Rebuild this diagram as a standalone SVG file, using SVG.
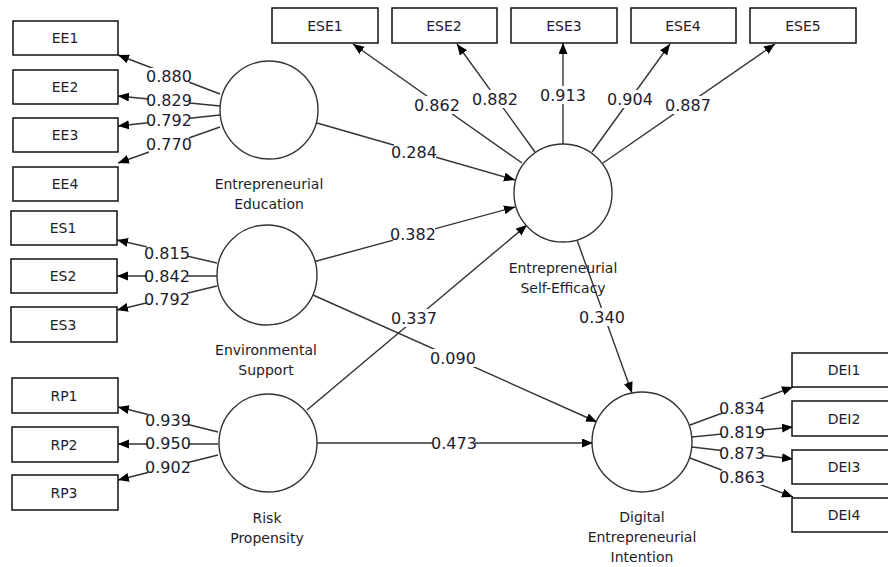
<svg xmlns="http://www.w3.org/2000/svg" width="888" height="567" viewBox="0 0 888 567">
<style>
.box{fill:#fff;stroke:#111;stroke-width:1.5}
.lv{fill:#fff;stroke:#333;stroke-width:1.4}
.bt{font-family:"DejaVu Sans",sans-serif;font-size:14px;fill:#1c1c2c;text-anchor:middle}
.lt{font-family:"DejaVu Sans",sans-serif;font-size:14px;fill:#1c1c2c;text-anchor:middle}
.ln{stroke:#333;stroke-width:1.4;fill:none;marker-end:url(#ah)}
.nb{fill:#fff}
.nt{font-family:"DejaVu Sans",sans-serif;font-size:16px;fill:#1c1c2c;text-anchor:middle}
</style>
<defs>
<marker id="ah" markerUnits="userSpaceOnUse" markerWidth="12" markerHeight="10" refX="11" refY="4.5" orient="auto">
<path d="M0,0 L11,4.5 L0,9 z" fill="#000"/>
</marker>
</defs>
<rect width="888" height="567" fill="#fff"/>

<g id="connectors">
<!-- EE outer loadings -->
<line class="ln" x1="220" y1="94" x2="118" y2="55"/>
<line class="ln" x1="220" y1="106" x2="118" y2="96"/>
<line class="ln" x1="220" y1="115" x2="118" y2="126"/>
<line class="ln" x1="220" y1="127" x2="118" y2="163"/>
<!-- ES -->
<line class="ln" x1="217" y1="263" x2="117" y2="240"/>
<line class="ln" x1="217" y1="276" x2="117" y2="276"/>
<line class="ln" x1="217" y1="286" x2="117" y2="310"/>
<!-- RP -->
<line class="ln" x1="218" y1="432" x2="118" y2="407"/>
<line class="ln" x1="218" y1="444" x2="118" y2="444"/>
<line class="ln" x1="218" y1="455" x2="118" y2="480"/>
<!-- ESE -->
<line class="ln" x1="522" y1="163" x2="353" y2="44"/>
<line class="ln" x1="535" y1="152" x2="457" y2="44"/>
<line class="ln" x1="563" y1="144" x2="563" y2="43"/>
<line class="ln" x1="592" y1="152" x2="670" y2="44"/>
<line class="ln" x1="603" y1="163" x2="775" y2="44"/>
<!-- DEI -->
<line class="ln" x1="690" y1="425" x2="793" y2="387"/>
<line class="ln" x1="692" y1="437" x2="793" y2="427"/>
<line class="ln" x1="692" y1="447" x2="793" y2="459"/>
<line class="ln" x1="690" y1="458" x2="793" y2="497"/>
<!-- structural -->
<line class="ln" x1="317" y1="123" x2="515" y2="180"/>
<line class="ln" x1="313" y1="262" x2="515" y2="207"/>
<line class="ln" x1="307" y1="410" x2="527" y2="225"/>
<line class="ln" x1="313" y1="295" x2="597" y2="422"/>
<line class="ln" x1="317" y1="443" x2="593" y2="443"/>
<line class="ln" x1="577" y1="240" x2="632" y2="393"/>

<!-- labels -->
<g id="coef">
<rect class="nb" x="149" y="68" width="40" height="16"/><text class="nt" x="169" y="82">0.880</text>
<rect class="nb" x="149" y="93" width="40" height="16"/><text class="nt" x="169" y="106">0.829</text>
<rect class="nb" x="149" y="113" width="40" height="16"/><text class="nt" x="169" y="126">0.792</text>
<rect class="nb" x="149" y="137" width="40" height="16"/><text class="nt" x="169" y="150">0.770</text>

<rect class="nb" x="147" y="246" width="40" height="15"/><text class="nt" x="167" y="259">0.815</text>
<rect class="nb" x="147" y="269" width="40" height="15"/><text class="nt" x="167" y="282">0.842</text>
<rect class="nb" x="147" y="292" width="40" height="15"/><text class="nt" x="167" y="305">0.792</text>

<rect class="nb" x="148" y="413" width="40" height="15"/><text class="nt" x="168" y="426">0.939</text>
<rect class="nb" x="148" y="436" width="40" height="15"/><text class="nt" x="168" y="449">0.950</text>
<rect class="nb" x="148" y="460" width="40" height="15"/><text class="nt" x="168" y="473">0.902</text>

<rect class="nb" x="417" y="96" width="40" height="18"/><text class="nt" x="437" y="111">0.862</text>
<rect class="nb" x="475" y="90" width="40" height="18"/><text class="nt" x="495" y="105">0.882</text>
<rect class="nb" x="543" y="86" width="40" height="18"/><text class="nt" x="563" y="101">0.913</text>
<rect class="nb" x="610" y="90" width="40" height="18"/><text class="nt" x="630" y="105">0.904</text>
<rect class="nb" x="668" y="96" width="40" height="18"/><text class="nt" x="688" y="111">0.887</text>

<rect class="nb" x="722" y="399" width="40" height="16"/><text class="nt" x="742" y="414">0.834</text>
<rect class="nb" x="722" y="424" width="40" height="16"/><text class="nt" x="742" y="438">0.819</text>
<rect class="nb" x="722" y="445" width="40" height="16"/><text class="nt" x="742" y="459">0.873</text>
<rect class="nb" x="722" y="469" width="40" height="16"/><text class="nt" x="742" y="483">0.863</text>

<rect class="nb" x="394" y="143" width="42" height="18"/><text class="nt" x="414" y="158">0.284</text>
<rect class="nb" x="393" y="225" width="42" height="18"/><text class="nt" x="413" y="240">0.382</text>
<rect class="nb" x="394" y="309" width="42" height="18"/><text class="nt" x="414" y="324">0.337</text>
<rect class="nb" x="433" y="349" width="42" height="18"/><text class="nt" x="453" y="364">0.090</text>
<rect class="nb" x="433" y="434" width="42" height="18"/><text class="nt" x="454" y="449">0.473</text>
<rect class="nb" x="582" y="308" width="42" height="18"/><text class="nt" x="602" y="323">0.340</text>
</g>
</g>

<g id="EE1"><rect class="box" x="13" y="21" width="105" height="34"/><text class="bt" x="65" y="43">EE1</text></g>
<g id="EE2"><rect class="box" x="13" y="70" width="105" height="34"/><text class="bt" x="65" y="92">EE2</text></g>
<g id="EE3"><rect class="box" x="13" y="118" width="105" height="34"/><text class="bt" x="65" y="140">EE3</text></g>
<g id="EE4"><rect class="box" x="13" y="167" width="105" height="34"/><text class="bt" x="65" y="189">EE4</text></g>

<g id="ES1"><rect class="box" x="11" y="211" width="106" height="34"/><text class="bt" x="63" y="233">ES1</text></g>
<g id="ES2"><rect class="box" x="11" y="259" width="106" height="34"/><text class="bt" x="63" y="281">ES2</text></g>
<g id="ES3"><rect class="box" x="11" y="307" width="106" height="35"/><text class="bt" x="63" y="330">ES3</text></g>

<g id="RP1"><rect class="box" x="12" y="378" width="106" height="35"/><text class="bt" x="64" y="401">RP1</text></g>
<g id="RP2"><rect class="box" x="12" y="427" width="106" height="35"/><text class="bt" x="64" y="450">RP2</text></g>
<g id="RP3"><rect class="box" x="12" y="475" width="106" height="35"/><text class="bt" x="64" y="498">RP3</text></g>

<g id="ESE1"><rect class="box" x="272" y="8" width="106" height="35"/><text class="bt" x="325" y="31">ESE1</text></g>
<g id="ESE2"><rect class="box" x="392" y="8" width="105" height="35"/><text class="bt" x="444" y="31">ESE2</text></g>
<g id="ESE3"><rect class="box" x="511" y="8" width="106" height="35"/><text class="bt" x="564" y="31">ESE3</text></g>
<g id="ESE4"><rect class="box" x="631" y="8" width="105" height="35"/><text class="bt" x="683" y="31">ESE4</text></g>
<g id="ESE5"><rect class="box" x="750" y="8" width="106" height="35"/><text class="bt" x="803" y="31">ESE5</text></g>

<g id="DEI1"><rect class="box" x="792" y="353" width="105" height="34"/><text class="bt" x="844" y="375">DEI1</text></g>
<g id="DEI2"><rect class="box" x="792" y="401" width="105" height="35"/><text class="bt" x="844" y="424">DEI2</text></g>
<g id="DEI3"><rect class="box" x="792" y="450" width="105" height="34"/><text class="bt" x="844" y="472">DEI3</text></g>
<g id="DEI4"><rect class="box" x="792" y="498" width="105" height="34"/><text class="bt" x="844" y="520">DEI4</text></g>

<g id="EntrepreneurialEducation"><circle class="lv" cx="269" cy="110" r="49"/><text class="lt" x="269" y="189">Entrepreneurial</text><text class="lt" x="269" y="209">Education</text></g>
<g id="EnvironmentalSupport"><circle class="lv" cx="267" cy="275" r="50"/><text class="lt" x="266" y="355">Environmental</text><text class="lt" x="266" y="375">Support</text></g>
<g id="RiskPropensity"><circle class="lv" cx="268" cy="443" r="49"/><text class="lt" x="267" y="523">Risk</text><text class="lt" x="267" y="543">Propensity</text></g>
<g id="EntrepreneurialSelfEfficacy"><circle class="lv" cx="563" cy="193" r="49"/><text class="lt" x="563" y="273">Entrepreneurial</text><text class="lt" x="563" y="293">Self-Efficacy</text></g>
<g id="DigitalEntrepreneurialIntention"><circle class="lv" cx="642" cy="442" r="50"/><text class="lt" x="642" y="522">Digital</text><text class="lt" x="642" y="542">Entrepreneurial</text><text class="lt" x="642" y="562">Intention</text></g>
</svg>
